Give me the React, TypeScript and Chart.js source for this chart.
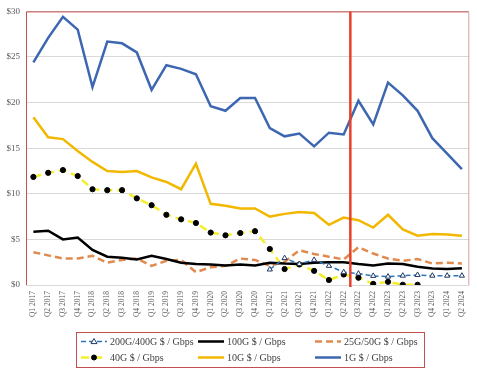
import React, { useEffect, useRef } from "react";
import { Chart, registerables } from "chart.js";

Chart.register(...registerables);

const quarters: string[] = [
  "Q1 2017", "Q2 2017", "Q3 2017", "Q4 2017",
  "Q1 2018", "Q2 2018", "Q3 2018", "Q4 2018",
  "Q1 2019", "Q2 2019", "Q3 2019", "Q4 2019",
  "Q1 2020", "Q2 2020", "Q3 2020", "Q4 2020",
  "Q1 2021", "Q2 2021", "Q3 2021", "Q4 2021",
  "Q1 2022", "Q2 2022", "Q3 2022", "Q4 2022",
  "Q1 2023", "Q2 2023", "Q3 2023", "Q4 2023",
  "Q1 2024", "Q2 2024",
];

const g200_400: (number | null)[] = [
  null, null, null, null, null, null, null, null, null, null, null, null, null, null, null, null,
  1.7, 2.95, 2.3, 2.75, 2.1, 1.4, 1.25, 1.0, 0.92, 1.02, 1.1, 1.02, 1.02, 1.02,
];
const g100: number[] = [
  5.85, 5.95, 5.0, 5.2, 3.85, 3.1, 3.0, 2.8, 3.2, 2.85, 2.45, 2.3, 2.25, 2.15, 2.25,
  2.15, 2.45, 2.35, 2.3, 2.45, 2.5, 2.5, 2.3, 2.15, 2.35, 2.3, 2.0, 1.8, 1.75, 1.85,
];
const g25_50: number[] = [
  3.6, 3.25, 2.9, 2.9, 3.2, 2.45, 2.75, 2.9, 2.1, 2.65, 2.75, 1.4, 1.95, 2.1, 2.9,
  2.75, 2.1, 2.55, 3.8, 3.4, 3.1, 2.8, 4.15, 3.45, 2.9, 2.65, 2.85, 2.35, 2.45, 2.35,
];
const g40: (number | null)[] = [
  11.85, 12.3, 12.6, 11.95, 10.5, 10.4, 10.4, 9.5, 8.75, 7.7, 7.2, 6.8, 5.75, 5.45, 5.7,
  5.9, 3.95, 1.75, 2.25, 1.55, 0.55, 1.15, 0.8, 0.12, 0.35, 0.03, 0.03, null, null, null,
];
const g10: number[] = [
  18.4, 16.2, 16.0, 14.7, 13.5, 12.5, 12.4, 12.5, 11.8, 11.3, 10.5, 13.3, 8.9, 8.7, 8.4,
  8.4, 7.5, 7.8, 8.0, 7.9, 6.6, 7.4, 7.1, 6.3, 7.7, 6.1, 5.4, 5.6, 5.55, 5.4,
];
const g1: number[] = [
  24.4, 27.1, 29.4, 28.0, 21.7, 26.7, 26.5, 25.5, 21.4, 24.1, 23.7, 23.1, 19.6, 19.1, 20.5,
  20.5, 17.2, 16.3, 16.6, 15.2, 16.7, 16.5, 20.2, 17.6, 22.2, 20.8, 19.1, 16.1, 14.4, 12.7,
];

const seriesNames: string[] = [
  "200G/400G $ / Gbps",
  "100G $ / Gbps",
  "25G/50G $ / Gbps",
  "40G $ / Gbps",
  "10G $ / Gbps",
  "1G $ / Gbps",
];

const yMin = 0;
const yMax = 30;
const yStep = 5;
// divider between Q2 2022 and Q3 2022 (category index position)
const dividerPosition = 21.45;

const FONT = "'Liberation Serif', 'DejaVu Serif', serif";

export default function App() {
  const canvasRef = useRef<HTMLCanvasElement | null>(null);

  useEffect(() => {
    document.body.style.margin = "0";
    const canvas = canvasRef.current;
    if (!canvas) return;

    const plotBorder = {
      id: "plotBorder",
      afterDatasetsDraw(chart: any) {
        const { ctx, chartArea } = chart;
        ctx.save();
        ctx.strokeStyle = "#c0504d";
        ctx.lineWidth = 1;
        ctx.beginPath();
        ctx.moveTo(chartArea.left + 0.5, chartArea.bottom);
        ctx.lineTo(chartArea.left + 0.5, chartArea.top + 0.5);
        ctx.lineTo(chartArea.right - 0.5, chartArea.top + 0.5);
        ctx.stroke();
        ctx.strokeStyle = "#d8a3a2";
        ctx.beginPath();
        ctx.moveTo(chartArea.right - 0.5, chartArea.top + 1);
        ctx.lineTo(chartArea.right - 0.5, chartArea.bottom);
        ctx.stroke();
        const x = chart.scales.x.getPixelForValue(dividerPosition);
        ctx.strokeStyle = "#e8402a";
        ctx.lineWidth = 2.5;
        ctx.beginPath();
        ctx.moveTo(x, chartArea.top);
        ctx.lineTo(x, chartArea.bottom + 2);
        ctx.stroke();
        ctx.restore();
      },
    };

    const customLegend = {
      id: "customLegend",
      afterDraw(chart: any) {
        const { ctx } = chart;
        ctx.save();
        ctx.strokeStyle = "#c0504d";
        ctx.lineWidth = 1;
        ctx.strokeRect(76.5, 332.5, 348, 35);
        const colX = [81, 198, 315];
        const rowY = [341.5, 357.5];
        const sampleW = 26;
        chart.data.datasets.forEach((ds: any, i: number) => {
          const cx = colX[i % 3];
          const cy = rowY[Math.floor(i / 3)];
          ctx.save();
          ctx.strokeStyle = ds.borderColor;
          ctx.lineWidth = ds.borderWidth;
          ctx.setLineDash(ds.borderDash || []);
          ctx.beginPath();
          ctx.moveTo(cx, cy);
          ctx.lineTo(cx + sampleW, cy);
          ctx.stroke();
          ctx.setLineDash([]);
          if (ds.pointRadius > 0) {
            const mx = cx + sampleW / 2;
            ctx.fillStyle = ds.pointBackgroundColor;
            ctx.strokeStyle = ds.pointBorderColor;
            ctx.lineWidth = 1;
            ctx.beginPath();
            if (ds.pointStyle === "triangle") {
              const r = 3;
              ctx.moveTo(mx, cy - r);
              ctx.lineTo(mx + r, cy + r * 0.7);
              ctx.lineTo(mx - r, cy + r * 0.7);
              ctx.closePath();
            } else {
              ctx.arc(mx, cy, 2.5, 0, Math.PI * 2);
            }
            ctx.fill();
            ctx.stroke();
          }
          ctx.restore();
          ctx.fillStyle = "#404040";
          ctx.font = `10px ${FONT}`;
          ctx.textBaseline = "middle";
          ctx.textAlign = "left";
          ctx.fillText(ds.label, cx + sampleW + 3, cy + 0.5);
        });
        ctx.restore();
      },
    };

    const chart = new Chart(canvas, {
      type: "line",
      data: {
        labels: quarters,
        datasets: [
          {
            label: seriesNames[0],
            data: g200_400,
            borderColor: "#2e75b6",
            borderWidth: 1.5,
            borderDash: [5, 3],
            pointStyle: "triangle",
            pointRadius: 3,
            pointBackgroundColor: "#ffffff",
            pointBorderColor: "#1f3864",
            pointBorderWidth: 1,
            tension: 0,
          } as any,
          {
            label: seriesNames[1],
            data: g100,
            borderColor: "#000000",
            borderWidth: 2.5,
            pointRadius: 0,
            tension: 0,
          },
          {
            label: seriesNames[2],
            data: g25_50,
            borderColor: "#e08a4e",
            borderWidth: 2.5,
            borderDash: [7, 4],
            pointRadius: 0,
            tension: 0,
          },
          {
            label: seriesNames[3],
            data: g40,
            borderColor: "#f5ef2a",
            borderWidth: 2.5,
            borderDash: [8, 5],
            pointRadius: 2.6,
            pointBackgroundColor: "#000000",
            pointBorderColor: "#000000",
            pointBorderWidth: 1,
            spanGaps: false,
            tension: 0,
          },
          {
            label: seriesNames[4],
            data: g10,
            borderColor: "#f2b800",
            borderWidth: 2.5,
            pointRadius: 0,
            tension: 0,
          },
          {
            label: seriesNames[5],
            data: g1,
            borderColor: "#3d67b1",
            borderWidth: 2.5,
            pointRadius: 0,
            tension: 0,
          },
        ],
      },
      options: {
        responsive: false,
        animation: false,
        events: [],
        layout: { padding: { top: 11, right: 6, left: 0, bottom: 0 } },
        plugins: {
          legend: { display: false },
          tooltip: { enabled: false },
          title: { display: false },
        },
        scales: {
          x: {
            type: "category",
            offset: true,
            grid: { display: false, drawTicks: false },
            border: { display: false },
            ticks: {
              autoSkip: false,
              minRotation: 90,
              maxRotation: 90,
              padding: 6,
              color: "#595959",
              font: { family: FONT, size: 7.5 },
            },
            afterFit: (scale: any) => {
              scale.height = 92;
            },
          },
          y: {
            min: yMin,
            max: yMax,
            grid: { color: "#d9d9d9", drawTicks: false, lineWidth: 1 },
            border: { display: false },
            ticks: {
              stepSize: yStep,
              padding: 6,
              color: "#595959",
              font: { family: FONT, size: 9 },
              callback: (v: any) => "$" + v,
            },
            afterFit: (scale: any) => {
              scale.width = 26;
            },
          },
        },
      },
      plugins: [plotBorder, customLegend],
    });

    return () => chart.destroy();
  }, []);

  return (
    <div style={{ position: "absolute", left: 0, top: 0, width: 477, height: 377, background: "#ffffff" }}>
      <canvas ref={canvasRef} width={477} height={377} style={{ width: 477, height: 377, display: "block" }} />
    </div>
  );
}
